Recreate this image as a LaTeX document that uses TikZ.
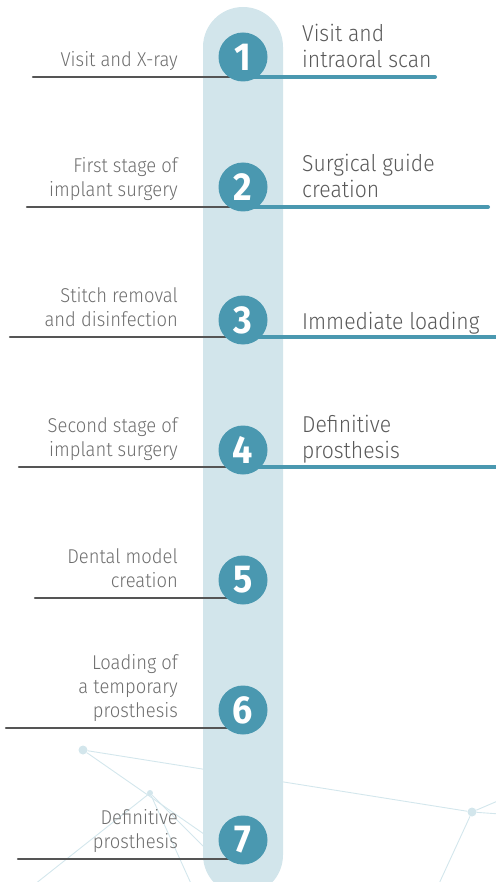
\documentclass[tikz,border=0pt]{standalone}
\usepackage{fontspec}
\setmainfont{Fira Sans}[UprightFont={* Light},BoldFont={* Bold},FakeStretch=0.92]
\usetikzlibrary{positioning}
\definecolor{barblue}{HTML}{D2E5EB}
\definecolor{stepteal}{HTML}{4A98B0}
\definecolor{linegray}{HTML}{555555}
\definecolor{txtlight}{HTML}{6E6E6E}
\definecolor{txtdark}{HTML}{595959}
\definecolor{netblue}{HTML}{D3E6EC}
\pgfdeclarelayer{back}
\pgfdeclarelayer{mid}
\pgfsetlayers{back,mid,main}
\tikzset{
x=1pt,y=-1pt,
stepnum/.style={circle,fill=stepteal,text=white,minimum size=49pt,inner sep=0pt,font=\bfseries\fontsize{39}{39}\selectfont},
lefttext/.style={anchor=south east,align=right,inner sep=0pt,text=txtlight,font=\fontsize{20}{24}\selectfont,execute at end node=\strut},
righttext/.style={anchor=south west,align=left,inner sep=0pt,text=txtdark,font=\fontsize{23}{26}\selectfont,execute at end node=\strut},
leftline/.style={draw=linegray,line width=2.5pt,line cap=round},
rightline/.style={draw=stepteal,line width=4pt,line cap=round},
net/.style={draw=netblue,line width=0.9pt},
netdot/.style={circle,fill=netblue,inner sep=0pt}
}

\begin{document}
\begin{tikzpicture}
\useasboundingbox (0,0) rectangle (495,882);

% steps
\node[stepnum] (c1) at (243,57)  {1};
\node[stepnum] (c2) at (243,187) {2};
\node[stepnum] (c3) at (243,320) {3};
\node[stepnum] (c4) at (243,450) {4};
\node[stepnum] (c5) at (243,580) {5};
\node[stepnum] (c6) at (243,710) {6};
\node[stepnum] (c7) at (243,840) {7};

% line ends
\coordinate (a1) at (33,77);
\coordinate (a2) at (27,207);
\coordinate (a3) at (10,337);
\coordinate (a4) at (19,467);
\coordinate (a5) at (35,598);
\coordinate (a6) at (6,728);
\coordinate (a7) at (18,859);
\coordinate (b1) at (435,77);
\coordinate (b2) at (488,207);
\coordinate (b3) at (497,337);
\coordinate (b4) at (497,467);

% left column
\node[lefttext] (l1) at (178,74)  {Visit and X-ray};
\node[lefttext] (l2) at (178,204) {First stage of\\implant surgery};
\node[lefttext] (l3) at (178,334) {Stitch removal\\and disinfection};
\node[lefttext] (l4) at (178,464) {Second stage of\\implant surgery};
\node[lefttext] (l5) at (178,595) {Dental model\\creation};
\node[lefttext] (l6) at (178,725) {Loading of\\a temporary\\prosthesis};
\node[lefttext] (l7) at (178,856) {Definitive\\prosthesis};

% right column
\node[righttext] (r1) at (302,76)  {Visit and\\intraoral scan};
\node[righttext] (r2) at (302,206) {Surgical guide\\creation};
\node[righttext] (r3) at (302,337) {Immediate loading};
\node[righttext] (r4) at (302,466) {Definitive\\prosthesis};

\begin{pgfonlayer}{mid}
\draw[leftline] (a1) -- (a1 -| c1);
\draw[leftline] (a2) -- (a2 -| c2);
\draw[leftline] (a3) -- (a3 -| c3);
\draw[leftline] (a4) -- (a4 -| c4);
\draw[leftline] (a5) -- (a5 -| c5);
\draw[leftline] (a6) -- (a6 -| c6);
\draw[leftline] (a7) -- (a7 -| c7);
\draw[rightline] (b1 -| c1) -- (b1);
\draw[rightline] (b2 -| c2) -- (b2);
\draw[rightline] (b3 -| c3) -- (b3);
\draw[rightline] (b4 -| c4) -- (b4);
\end{pgfonlayer}

\begin{pgfonlayer}{back}
% network
\node[netdot,minimum size=9pt] (d1) at (83,750) {};
\node[netdot,minimum size=6pt] (d2) at (150,793) {};
\node[netdot,minimum size=9pt] (d3) at (472,812) {};
\coordinate (e1) at (250,866);
\coordinate (e2) at (30,888);
\coordinate (e3) at (193,888);
\coordinate (e4) at (250,893);
\coordinate (e5) at (500,800);
\coordinate (e6) at (500,814);
\coordinate (e7) at (437,888);
\draw[net] (d1) -- (d3);
\draw[net] (d1) -- (e1);
\draw[net] (d2) -- (e2);
\draw[net] (d2) -- (e3);
\draw[net] (d2) -- (e4);
\draw[net] (d3) -- (e5);
\draw[net] (d3) -- (e6);
\draw[net] (d3) -- (e7);
% bar
\fill[barblue,rounded corners=40pt] (203,7) rectangle (283,895);
\end{pgfonlayer}
\end{tikzpicture}
\end{document}
